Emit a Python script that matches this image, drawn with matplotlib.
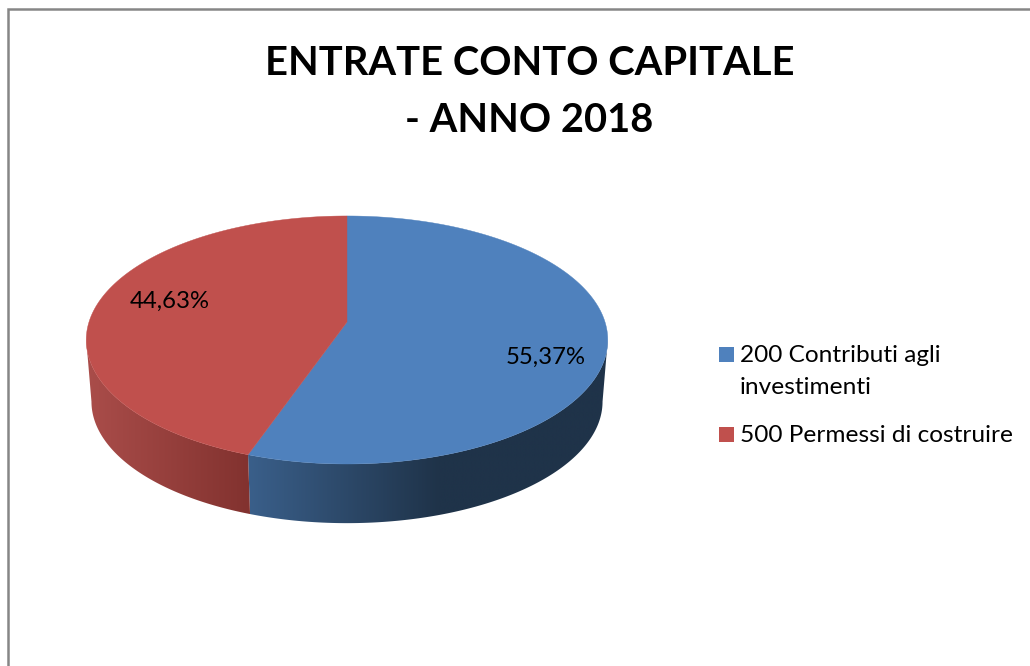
import numpy as np
import matplotlib
matplotlib.use("Agg")
import matplotlib.pyplot as plt
from matplotlib.patches import Rectangle, Polygon

titolo = "ENTRATE CONTO CAPITALE\n- ANNO 2018"
voci = ["200 Contributi agli\ninvestimenti", "500 Permessi di costruire"]
quote = [55.37, 44.63]
etichette = ["55,37%", "44,63%"]
colori = ["#4f81bd", "#c0504d"]

plt.rcParams['font.family'] = ['Lato', 'DejaVu Sans']

# geometria della torta in prospettiva (pixel)
CX, CY = 347, 322
A, B, K = 258, 121.4, 0.145
SPESSORE = 62


def piano(ang):
    # ang in gradi, in senso orario dall'alto
    t = np.radians(ang)
    u, v = np.sin(t), np.cos(t)
    d = 1 + K * v
    return CX + A * u / d, CY - B * v / d


def fondo(x, y):
    return CX + (x - CX) * 0.98, CY + (y - CY) * 0.98 + SPESSORE


def mix(c1, c2, f):
    c1 = np.array(matplotlib.colors.to_rgb(c1))
    c2 = np.array(matplotlib.colors.to_rgb(c2))
    return c1 + (c2 - c1) * f


def colore_lato(i, x):
    if i == 0:
        return mix("#3a5f8a", "#1f3349", np.clip((x - 249) / 190, 0, 1))
    return mix("#aa4d4a", "#82322f", np.clip((x - 87) / 162, 0, 1))


fig = plt.figure(figsize=(10.3, 6.66), dpi=100)
ax = fig.add_axes([0, 0, 1, 1])
ax.axis("off")

# bordo del grafico
ax.plot([8.2, 8.2, 1030], [666, 8.7, 8.7], color="#868686", lw=1.8, solid_joinstyle="miter")

limiti = np.cumsum([0] + quote) / sum(quote) * 360

# il fianco si vede solo tra le due tangenti verticali
ang_tang = np.degrees(np.arccos(-K))

# fianco con sfumatura orizzontale
for i in range(len(quote)):
    a0 = max(limiti[i], ang_tang)
    a1 = min(limiti[i + 1], 360 - ang_tang)
    angoli = np.linspace(a0, a1, 300)
    xs, ys = piano(angoli)
    xb, yb = fondo(xs, ys)
    contorno = list(zip(xs, ys)) + list(zip(xb[::-1], yb[::-1]))
    sagoma = Polygon(contorno, facecolor="none", edgecolor="none", transform=ax.transData)
    ax.add_patch(sagoma)
    x0, x1 = min(xs.min(), xb.min()), max(xs.max(), xb.max())
    pos = np.linspace(x0, x1, 400)
    sfum = np.array([[colore_lato(i, p) for p in pos]])
    im = ax.imshow(sfum, extent=(x0, x1, 540, 200), aspect="auto", interpolation="bilinear")
    im.set_clip_path(sagoma)

# piano superiore
for i in range(len(quote)):
    angoli = np.linspace(limiti[i], limiti[i + 1], 300)
    xs, ys = piano(angoli)
    punti = [(CX, CY)] + list(zip(xs, ys))
    ax.add_patch(Polygon(punti, facecolor=colori[i], edgecolor=colori[i], lw=0.3))

ax.set_xlim(0, 1030)
ax.set_ylim(666, 0)

ax.text(529.5, 92, titolo, ha="center", va="center", fontsize=28.7, fontweight="bold",
        color="black", linespacing=1.68)

ax.text(546, 357, etichette[0], ha="center", va="center", fontsize=17.2, color="black")
ax.text(170, 301, etichette[1], ha="center", va="center", fontsize=17.2, color="black")

# legenda
pos_y = [354, 434]
for i in range(len(voci)):
    ax.add_patch(Rectangle((719, pos_y[i] - 7.5), 15, 15, facecolor=colori[i], edgecolor="none"))
    ax.text(740, pos_y[i] - 9, voci[i], ha="left", va="top", fontsize=17.6, color="black",
            linespacing=1.62)

fig.savefig("out.png", dpi=100, facecolor="white")
